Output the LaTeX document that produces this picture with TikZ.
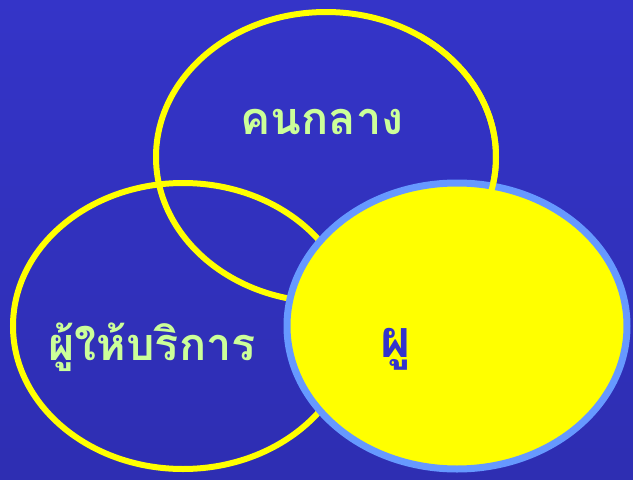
\documentclass[tikz,border=0pt]{standalone}
\usepackage{fontspec}
\newfontfamily\thaifont[Script=Thai]{Loma}
\definecolor{bgtop}{HTML}{3434C8}
\definecolor{bgbot}{HTML}{2E2EB2}
\definecolor{ring}{HTML}{FFFF00}
\definecolor{rimblue}{HTML}{6699FF}
\definecolor{txtgreen}{HTML}{CCFF99}
\definecolor{txtblue}{HTML}{3333CC}
\tikzset{
  ringline/.style={draw=ring, line width=6pt},
  label/.style={font=\thaifont\bfseries\fontsize{45}{50}\selectfont, inner sep=0pt},
}
\begin{document}
\begin{tikzpicture}[x=1pt,y=-1pt]
  \shade[top color=bgtop, bottom color=bgbot] (0,0) rectangle (633,480);
  \useasboundingbox (0,0) rectangle (633,480);
  \path[ringline] (326,157) ellipse [x radius=170, y radius=145];
  \path[ringline] (183,326) ellipse [x radius=170, y radius=143];
  \path[fill=ring, draw=rimblue, line width=7pt] (457,326) ellipse [x radius=170, y radius=143];
  \begin{scope}
    \clip (420,0) rectangle (633,230);
    \path[ringline] (326,157) ellipse [x radius=170, y radius=145];
  \end{scope}
  \node[label, text=txtgreen] (mid) at (322,122) {คนกลาง};
  \node[label, text=txtgreen] (prov) at (152,347) {ผู้ให้บริการ};
  \node[label, text=txtblue, font=\thaifont\bfseries\fontsize{52}{56}\selectfont] (recv) at (396,349) {ผู};
\end{tikzpicture}
\end{document}
